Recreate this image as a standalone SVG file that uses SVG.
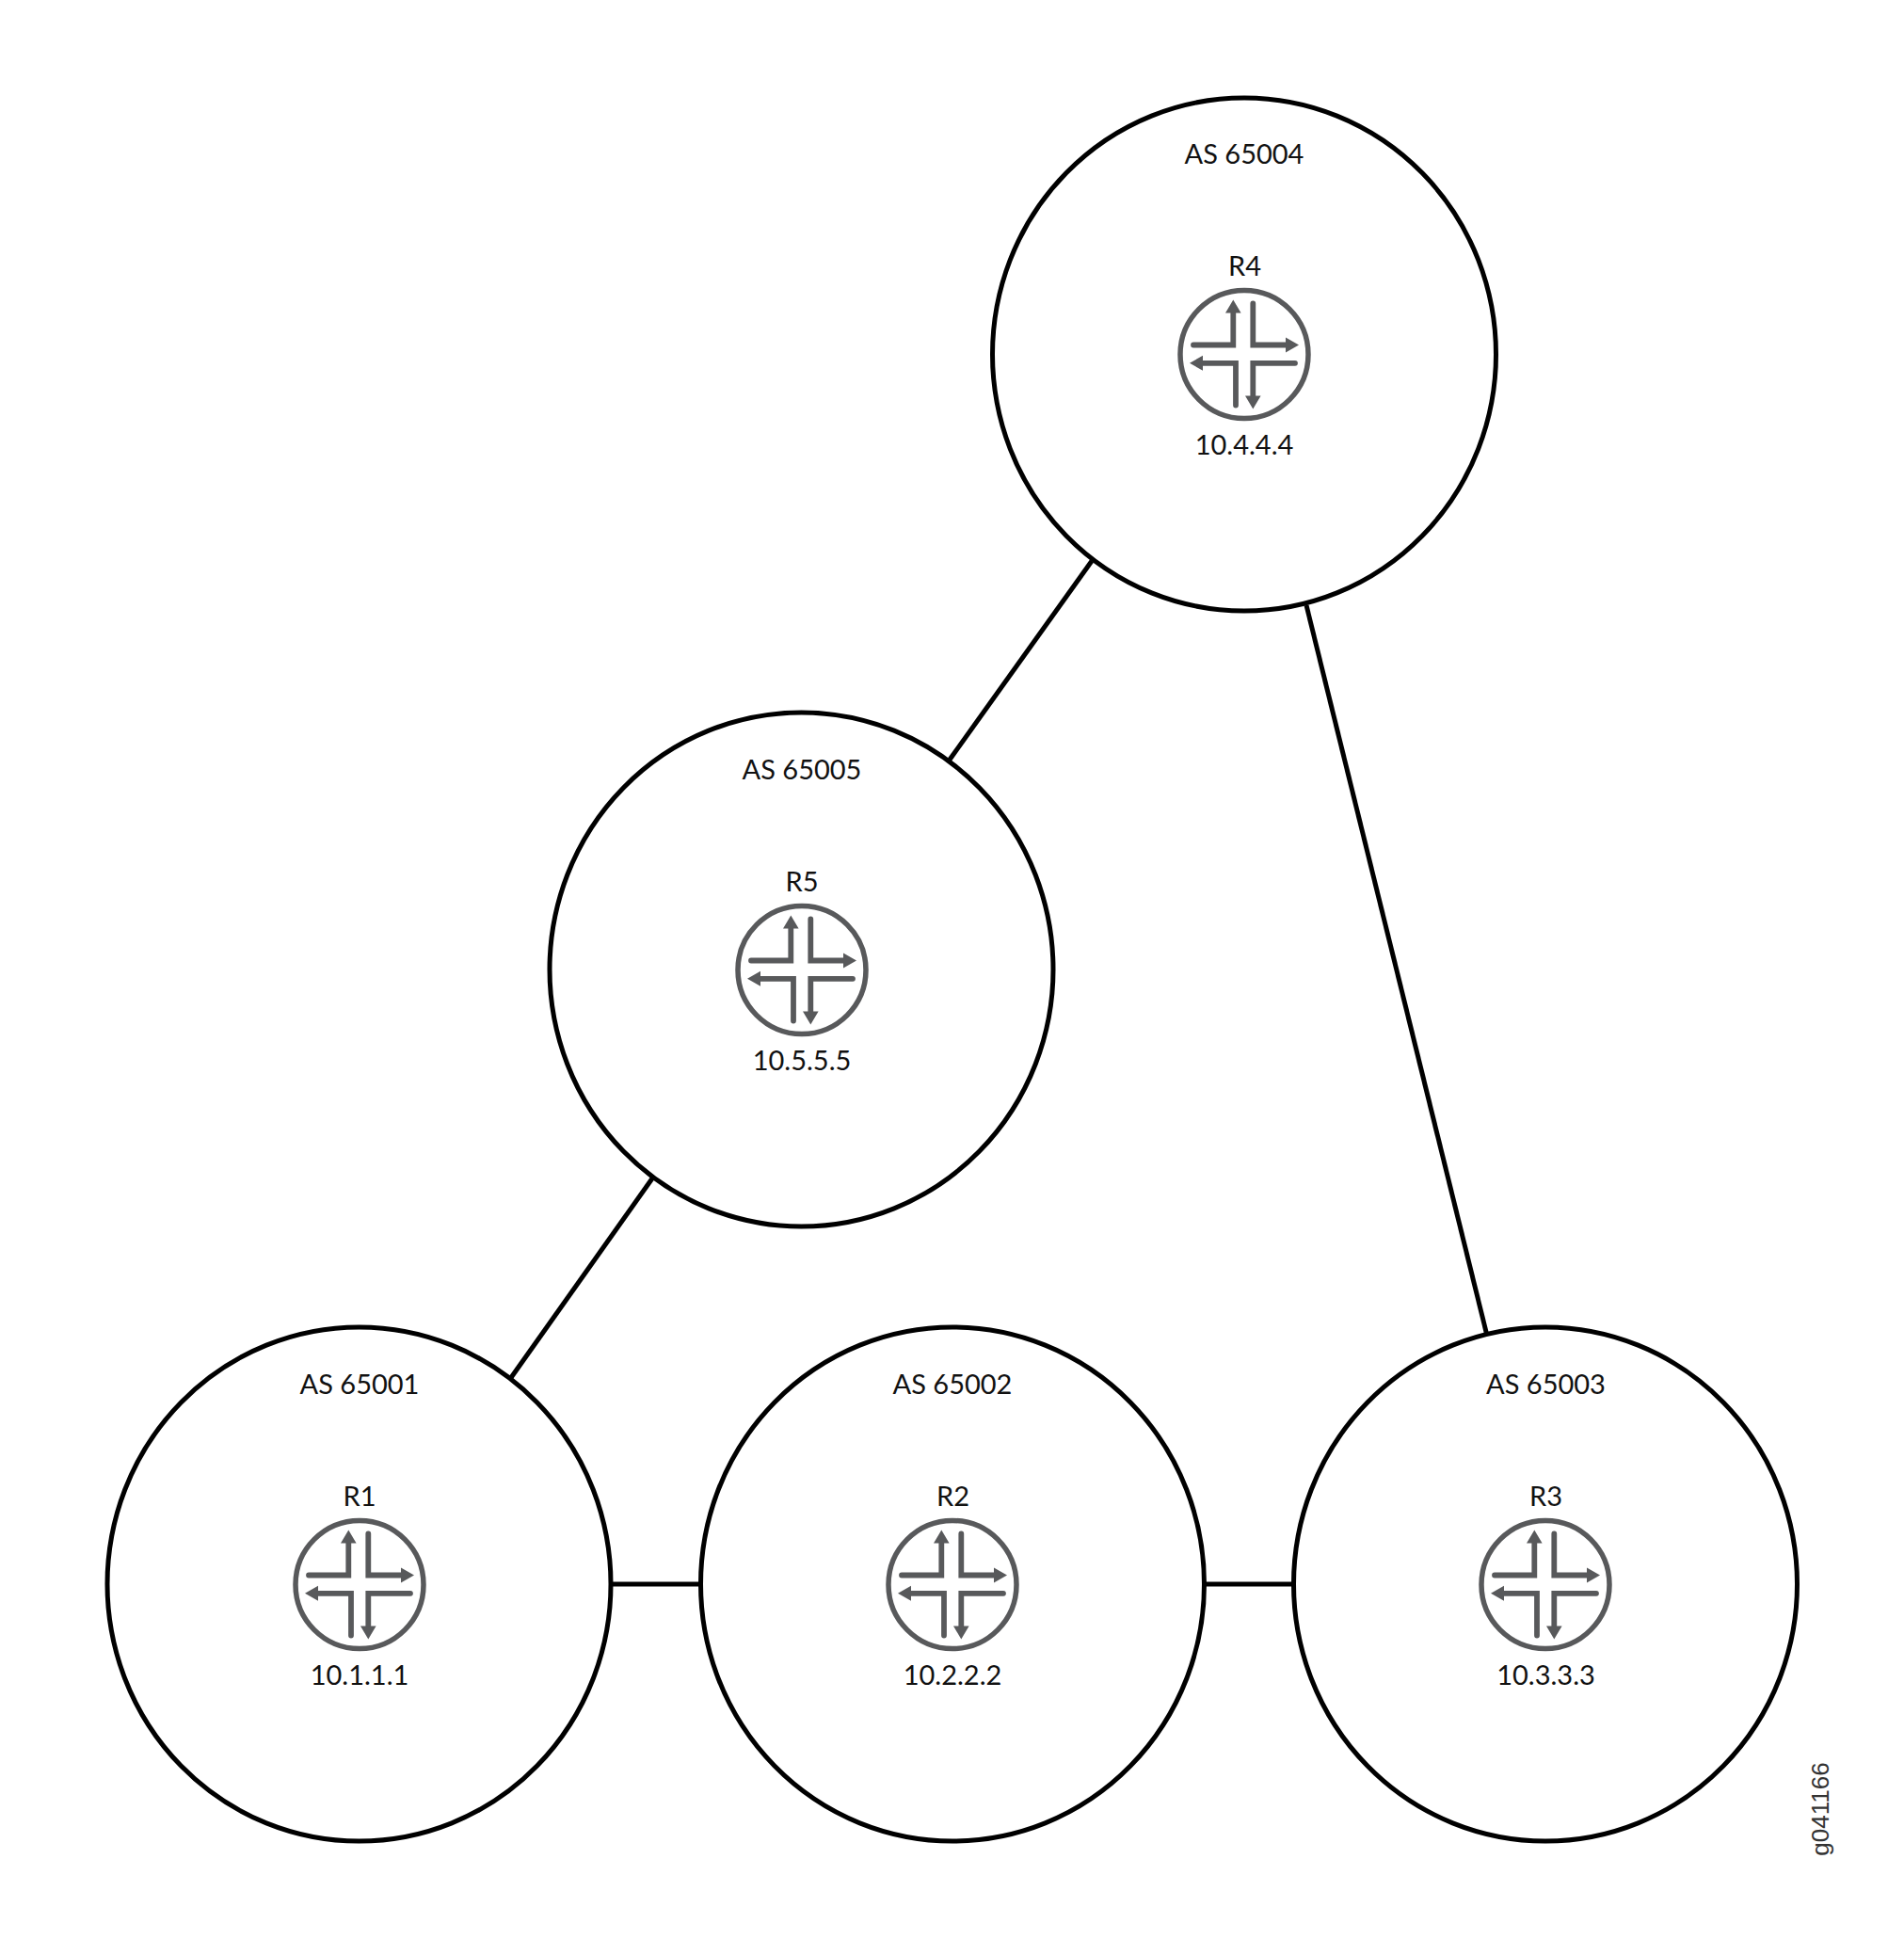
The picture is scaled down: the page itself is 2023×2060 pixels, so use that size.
<svg xmlns="http://www.w3.org/2000/svg" xmlns:xlink="http://www.w3.org/1999/xlink" width="2023" height="2060" viewBox="0 0 2023 2060">
<style>
.as{fill:#fff;stroke:#000;stroke-width:5}
.link{stroke:#000;stroke-width:5;fill:none}
.t{font-family:Lato,"Liberation Sans",sans-serif;font-size:29px;fill:#111;text-anchor:middle}
.ring{fill:#fff;stroke:#58595b;stroke-width:5.500}
.arm{fill:none;stroke:#58595b;stroke-width:5.800;stroke-linecap:round;stroke-linejoin:miter}
.head{fill:#58595b}
.id{font-family:"Liberation Sans",sans-serif;font-size:26px;fill:#333;text-anchor:middle}
</style>
<defs>
<g id="router">
<circle class="ring" r="68"/>
<path class="arm" d="M-54-10H-11.700V-46M9.300-54V-10H46M54 9.300H9.300V46M-9 54V9.300H-46"/>
<path class="head" d="M-11.700-58L-20-44H-3.400ZM58-10L44-18V-2ZM9.300 58L1 44H17.600ZM-58 9.300L-44 1.300V17.300Z"/>
</g>
</defs>
<rect width="2023" height="2060" fill="#fff"/>
<g id="connectors">
<line class="link" x1="1160" y1="596" x2="1009" y2="807"/>
<line class="link" x1="1388" y1="643" x2="1580" y2="1419"/>
<line class="link" x1="693" y1="1252" x2="542" y2="1465"/>
<line class="link" x1="650" y1="1683" x2="744" y2="1683"/>
<line class="link" x1="1281" y1="1683" x2="1375" y2="1683"/>
</g>
<g id="as65001"><ellipse class="as" cx="381.500" cy="1683" rx="267.500" ry="273"/><text class="t" x="382" y="1481">AS 65001</text><text class="t" x="382" y="1600">R1</text><use xlink:href="#router" href="#router" x="382" y="1683.500"/><text class="t" x="382" y="1790">10.1.1.1</text></g>
<g id="as65002"><ellipse class="as" cx="1012" cy="1683" rx="267.500" ry="273"/><text class="t" x="1012" y="1481">AS 65002</text><text class="t" x="1012.500" y="1600">R2</text><use xlink:href="#router" href="#router" x="1012" y="1683.500"/><text class="t" x="1012" y="1790">10.2.2.2</text></g>
<g id="as65003"><ellipse class="as" cx="1642" cy="1683" rx="267.500" ry="273"/><text class="t" x="1642.500" y="1481">AS 65003</text><text class="t" x="1642.500" y="1600">R3</text><use xlink:href="#router" href="#router" x="1642" y="1683.500"/><text class="t" x="1642.500" y="1790">10.3.3.3</text></g>
<g id="as65005"><ellipse class="as" cx="851.500" cy="1030" rx="267.500" ry="273"/><text class="t" x="852" y="828">AS 65005</text><text class="t" x="852" y="947">R5</text><use xlink:href="#router" href="#router" x="852" y="1030.500"/><text class="t" x="852" y="1137">10.5.5.5</text></g>
<g id="as65004"><ellipse class="as" cx="1322" cy="376.500" rx="267.500" ry="272.500"/><text class="t" x="1322" y="174">AS 65004</text><text class="t" x="1322.500" y="293">R4</text><use xlink:href="#router" href="#router" x="1322" y="376.500"/><text class="t" x="1322" y="483">10.4.4.4</text></g>
<text class="id" transform="translate(1943 1922) rotate(-90)">g041166</text>
</svg>
